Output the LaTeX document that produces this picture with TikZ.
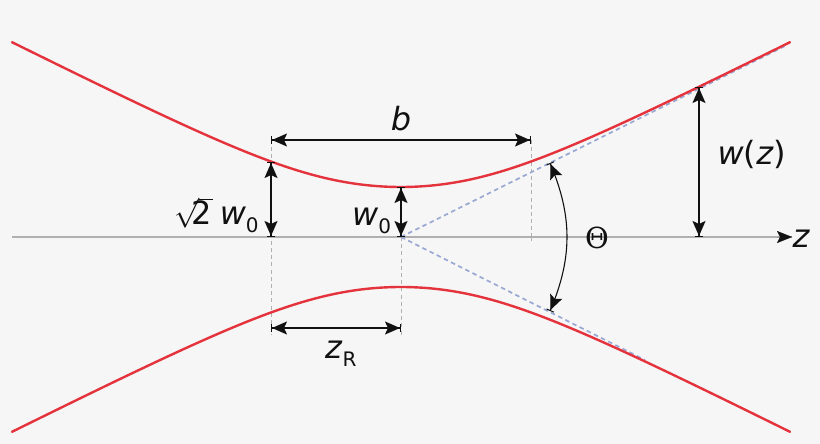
\documentclass[tikz,border=0pt]{standalone}
\usepackage{fontspec}
\setmainfont{DejaVu Sans}
\newfontfamily\thetafont{DejaVu Serif}
\usetikzlibrary{arrows.meta}
\definecolor{bgc}{HTML}{F6F6F6}
\definecolor{beam}{HTML}{E4333C}
\definecolor{asym}{HTML}{9AA8D4}
\definecolor{guide}{HTML}{B0B0B0}
\definecolor{dim}{HTML}{111111}
\newcommand{\beamw}[1]{50*sqrt(1+((#1)/100)^2*(((#1)/100)^2+1.859)/(((#1)/100)^2+2.998))}
\tikzset{
  x=1pt,y=-1pt,
  beamline/.style={draw=beam,line width=2.4pt,line cap=round},
  axisline/.style={draw=guide,line width=1.1pt},
  guideline/.style={draw=guide,line width=1pt,dash pattern=on 4pt off 3.2pt},
  asymline/.style={draw=asym,line width=1.7pt,dash pattern=on 4.5pt off 3.5pt},
  dimtips/.style={{Bar[width=8pt,line width=1pt]Stealth[length=15pt,width=13pt,inset=3pt,sep=0pt]}-{Stealth[length=15pt,width=13pt,inset=3pt,sep=0pt]Bar[width=8pt,line width=1pt]}},
  dimline/.style={draw=dim,line width=1.6pt,dimtips},
  lab/.style={inner sep=0pt,text=dim,font=\fontsize{32}{36}\selectfont},
  labi/.style={lab,font=\fontsize{32}{36}\selectfont\itshape},
}
\newcommand{\subs}[1]{\raisebox{-8pt}{\fontsize{20}{22}\selectfont #1}}
\begin{document}
\begin{tikzpicture}
\useasboundingbox[fill=bgc] (0,0) rectangle (820,444);
% named points
\coordinate (O) at (401,237);
\coordinate (Al) at (271,237);
\coordinate (Ar) at (531,237);
\coordinate (Wz) at (699,237);
\coordinate (WzT) at (699,87);
\coordinate (Sq) at (271,162);
\coordinate (W0) at (401,187);
\coordinate (Bl) at (271,140);
\coordinate (Br) at (531,140);
\coordinate (Rl) at (271,328);
\coordinate (Rr) at (401,328);
\coordinate (Rd) at (271,335);
\coordinate (Od) at (401,335);
\coordinate (AxL) at (12,237);
\coordinate (AxR) at (792,237);
\coordinate (AsU) at (787,45);
\coordinate (AsL) at (645,360);
\coordinate (ThU) at (550,163);
\coordinate (ThL) at (550,311);
% guides
\draw[axisline] (AxL) -- (AxR);
\draw[draw=guide,line width=1pt] (Ar) ++(0,-4) -- ++(0,8);
\draw[guideline] (Bl) -- (Rd);
\draw[guideline] (O) -- (Od);
\draw[guideline] (Br) -- (Ar);
% asymptotes
\draw[asymline] (O) -- (AsU);
\draw[asymline] (O) -- (AsL);
% beam
\draw[beamline] plot[smooth,domain=-389:389,samples=131] ({401+\x},{237-\beamw{\x}});
\draw[beamline] plot[smooth,domain=-389:389,samples=131] ({401+\x},{237+\beamw{\x}});
% axis arrow
\draw[draw=dim,line width=0.01pt,-{Stealth[length=15pt,width=12pt,inset=3pt,sep=0pt]}] (777,237) -- (AxR);
% dims
\draw[dimline] (Bl) -- (Br);
\draw[dimline] (Rl) -- (Rr);
\draw[dimline] (Sq) -- (Al);
\draw[dimline] (W0) -- (O);
\draw[dimline] (WzT) -- (Wz);
\draw[draw=dim,line width=1.1pt,dimtips] (ThU) to[bend left=23] (ThL);
% labels
\node[labi] (lb) at (401,119) {b};
\node[labi,anchor=base] (lz) at (801,247) {z};
\node[lab,anchor=base] (lth) at (597,248) {\fontsize{29}{32}\selectfont\thetafont Θ};
\node[lab,anchor=base] (lwz) at (752,164) {\textit{w}(\textit{z})};
\node[lab,anchor=base west] (lw0) at (352,225) {\textit{w}\subs{0}};
\node[lab,anchor=base west] (lsq) at (174,224) {\scalebox{1.2}{$\sqrt{\phantom{2}}$}\llap{2\hspace{1pt}}\hspace{7pt}\textit{w}\subs{0}};
\node[lab,anchor=base west] (lzr) at (325,358) {\textit{z}\subs{R}};
\end{tikzpicture}
\end{document}
